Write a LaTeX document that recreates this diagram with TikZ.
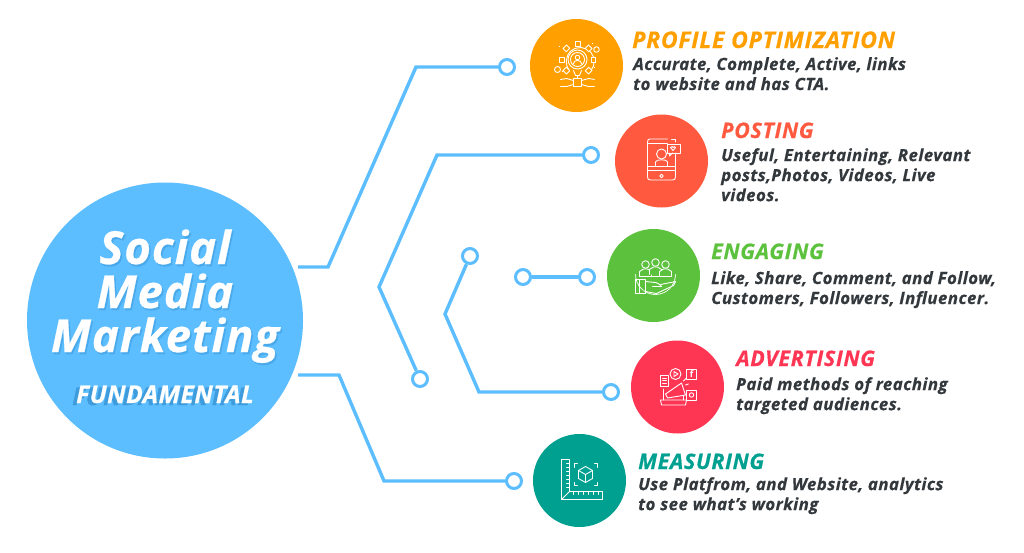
\documentclass[tikz,border=0pt]{standalone}
\usepackage{fontspec}
\setmainfont{Open Sans}
\newfontfamily\hd[LetterSpace=3,BoldItalicFeatures={FakeBold=0.5}]{Open Sans}
\newfontfamily\bd[LetterSpace=2.5,BoldItalicFeatures={FakeBold=0.4}]{Open Sans}
\newfontfamily\mn[LetterSpace=2,BoldItalicFeatures={FakeBold=0.6}]{Open Sans}
\usetikzlibrary{calc}
\definecolor{sky}{HTML}{5CBDFF}
\definecolor{skyd}{HTML}{3E9CDC}
\definecolor{orng}{HTML}{FF9F00}
\definecolor{rdd}{HTML}{FF5A3F}
\definecolor{grn}{HTML}{5CC13C}
\definecolor{pnk}{HTML}{FF3554}
\definecolor{tea}{HTML}{00A090}
\definecolor{ink}{HTML}{33383D}
\tikzset{
  x=1pt,y=-1pt,
  wire/.style={draw=sky,line width=3.4pt,line join=miter},
  ring/.style={circle,draw=sky,line width=3pt,fill=white,minimum size=15pt,inner sep=0pt},
  disc/.style={circle,minimum size=93pt,inner sep=0pt},
  title/.style={anchor=base west,inner sep=0pt,font=\hd\bfseries\itshape\fontsize{21.4}{24}\selectfont},
  titlewide/.style={anchor=base west,inner sep=0pt,font=\hd\bfseries\itshape\fontsize{23}{24}\selectfont},
  body/.style={anchor=north west,inner sep=0pt,align=left,text=ink,font=\bd\bfseries\itshape\fontsize{16.9}{20}\selectfont},
  big/.style={anchor=base,inner sep=0pt,font=\mn\bfseries\itshape\fontsize{45.5}{46}\selectfont},
  sub/.style={anchor=base,inner sep=0pt,font=\mn\bfseries\itshape\fontsize{24.5}{25}\selectfont},
  ico/.style={draw=white,line width=0.9pt,line join=round,line cap=round,fill=none},
}
\begin{document}
\begin{tikzpicture}
\useasboundingbox (0,0) rectangle (1024,552);
% main circle
\node[circle,fill=sky,minimum size=276pt,inner sep=0pt] (hub) at (165,320.5) {};
% discs
\node[disc,fill=orng] (d1) at (576.5,65.5) {};
\node[disc,fill=rdd] (d2) at (661.5,161) {};
\node[disc,fill=grn] (d3) at (653.5,275.5) {};
\node[disc,fill=pnk] (d4) at (677.5,387) {};
\node[disc,fill=tea] (d5) at (579.5,480.5) {};
% rings
\node[ring] (r1) at (507,67) {};
\node[ring] (r2a) at (591,155) {};
\node[ring] (r2b) at (420,379) {};
\node[ring] (r3a) at (470,256) {};
\node[ring] (r3b) at (611,392) {};
\node[ring] (r4a) at (523,277) {};
\node[ring] (r4b) at (587,277) {};
\node[ring] (r5) at (514,481) {};
% connector ends and bends
\coordinate (s1) at (298,267);
\coordinate (b1a) at (328,267);
\coordinate (b1b) at (416,67);
\coordinate (b2a) at (437,155);
\coordinate (b2b) at (379,287);
\coordinate (b3a) at (445,314);
\coordinate (b3b) at (479,392);
\coordinate (s5) at (298,375);
\coordinate (b5a) at (339,375);
\coordinate (b5b) at (384,481);
\draw[wire] (s1) -- (b1a) -- (b1b) -- (r1);
\draw[wire] (r2a) -- (b2a) -- (b2b) -- (r2b);
\draw[wire] (r3a) -- (b3a) -- (b3b) -- (r3b);
\draw[wire] (r4a) -- (r4b);
\draw[wire] (s5) -- (b5a) -- (b5b) -- (r5);
% hub text
\foreach \nm/\tx/\yy in {a/Social/264,b/Media/308,c/Marketing/352}{
  \node[big,text=skyd,opacity=.55] at (166.5,\yy+2) {\tx};
  \node[big,text=white] (hub\nm) at (165,\yy) {\tx};
}
\node[sub,text=skyd] at (161,405) {FUNDAMENTAL};
\node[sub,text=white] (hubd) at (165,403) {FUNDAMENTAL};
% labels
\node[titlewide,text=orng] (t1) at (632,48) {PROFILE OPTIMIZATION};
\node[body] (x1) at (633,57) {Accurate, Complete, Active, links\\to website and has CTA.};
\node[title,text=rdd] (t2) at (721,138) {POSTING};
\node[body] (x2) at (721,148) {Useful, Entertaining, Relevant\\posts,Photos, Videos, Live\\videos.};
\node[title,text=grn] (t3) at (711,259) {ENGAGING};
\node[body] (x3) at (711,271) {Like, Share, Comment, and Follow,\\Customers, Followers, Influencer.};
\node[title,text=pnk] (t4) at (736,366) {ADVERTISING};
\node[body] (x4) at (736,377) {Paid methods of reaching\\targeted audiences.};
\node[title,text=tea] (t5) at (638,469) {MEASURING};
\node[body] (x5) at (638,477) {Use Platfrom, and Website, analytics\\to see what’s working};
% icon: profile
\begin{scope}[shift={(d1.center)}]
  \draw[ico] (1,-6) circle [radius=9.5];
  \draw[ico] (1,-6) circle [radius=7];
  \draw[ico] (1,-8) circle [radius=2.3];
  \draw[ico] (-3,-2) .. controls (-3,-6) and (5,-6) .. (5,-2);
  \draw[ico] (-7,5) arc [start angle=140,end angle=400,radius=14];
  \foreach \a in {0,45,90,135,225,270,315}{
    \begin{scope}[shift={(1,-6)},rotate=\a]
      \draw[ico,fill=orng] (-2.5,-13.5) rectangle (2.5,-18);
    \end{scope}
  }
  \draw[ico] (-3,5) -- (-1,10) -- (3,10) -- (5,5);
  \draw[ico] (1,10) -- (1,13);
  \draw[ico] (-3,13) rectangle (5,21);
  \draw[ico] (-3,15) -- (-10,13) -- (-16,14);
  \draw[ico] (-3,19) -- (-10,21) -- (-16,21);
  \draw[ico] (5,15) -- (12,13) -- (18,14);
  \draw[ico] (5,19) -- (12,21) -- (18,21);
  \draw[ico] (-19,4) circle [radius=3];
  \draw[ico] (20,-16) circle [radius=2.8];
  \fill[white] (-17,-19) circle [radius=.6] (18,2) circle [radius=.6] (-14,6) circle [radius=.6] (16,-22) circle [radius=.6];
\end{scope}
% icon: posting
\begin{scope}[shift={(d2.center)}]
  \draw[ico] (6,-22) -- (-12,-22) .. controls (-13,-22) and (-14,-21) .. (-14,-19) -- (-14,16) .. controls (-14,18) and (-13,19) .. (-11,19) -- (11,19) .. controls (13,19) and (14,18) .. (14,16) -- (14,-8);
  \draw[ico] (14,-19) -- (14,-22) -- (10,-22);
  \draw[ico] (-14,-18) -- (6,-18);
  \draw[ico] (-14,5) -- (14,5) (-14,9) -- (14,9);
  \draw[ico] (0,-7) circle [radius=5];
  \draw[ico] (-6,5) -- (-6,1) .. controls (-6,-2) and (6,-2) .. (6,1) -- (6,5);
  \draw[ico] (6,-17) rectangle (19,-8);
  \draw[ico] (8,-8) -- (8,-5) -- (11,-8);
  \draw[ico] (9,-13.5) .. controls (10,-15) and (11.5,-14.5) .. (11.5,-13.5) .. controls (11.5,-14.5) and (14,-15) .. (14,-13.5) -- (11.5,-10.5) -- cycle;
  \draw[ico] (0,15) circle [radius=1.8];
\end{scope}
% icon: engaging
\begin{scope}[shift={(d3.center)}]
  \draw[ico,densely dotted] (-18,-1) arc [start angle=180,end angle=0,radius=20];
  \foreach \px/\py in {-8/-11,2/-13,12/-11}{
    \draw[ico,fill=grn] (\px-6,\py+12) -- (\px-6,\py+7) -- (\px-2,\py+4.5) -- (\px+2,\py+4.5) -- (\px+6,\py+7) -- (\px+6,\py+12);
    \draw[ico,fill=grn] (\px,\py) circle [radius=3.8];
  }
  \draw[ico] (-14,1) -- (18,1);
  \draw[ico] (-18,4) rectangle (-8,18);
  \draw[ico] (-14,4) -- (-14,18);
  \draw[ico] (-8,6) -- (2,7) .. controls (6,8) and (7,10) .. (8,11) -- (-1,11);
  \draw[ico] (7,9) -- (22,6) -- (20,10) -- (3,18) -- (-8,16);
\end{scope}
% icon: advertising
\begin{scope}[shift={(d4.center)}]
  \draw[ico] (-2,-13) circle [radius=5.5];
  \draw[ico] (-3.5,-15.5) -- (0.5,-13) -- (-3.5,-10.5) -- cycle;
  \draw[ico] (-17,-12) rectangle (-9,-1);
  \draw[ico] (-15,-9) -- (-11,-9) (-15,-6.5) -- (-11,-6.5) (-15,-4) -- (-11,-4);
  \draw[ico] (9,-18) rectangle (19,-8);
  \node[inner sep=0pt,text=white,font=\bfseries\fontsize{9}{9}\selectfont] (fb) at (14,-13) {f};
  \draw[ico] (9,3) rectangle (19,13);
  \draw[ico] (14,8) circle [radius=2.2];
  \draw[ico] (-14,2) -- (-14,13) (6,8) -- (6,13);
  \draw[ico] (-17,13) -- (9,13) -- (8,18) -- (-16,18) -- cycle;
  \draw[ico,fill=pnk] (-12,7) -- (4,-4) -- (8,8) -- (-10,11) -- cycle;
  \draw[ico] (6,-6) -- (9,-9) (8,-2) -- (11,-3);
\end{scope}
% icon: measuring
\begin{scope}[shift={(d5.center)}]
  \draw[ico] (-18,-21) -- (-10,-21) -- (-10,11) -- (23,11) -- (23,19) -- (-18,19) -- cycle;
  \draw[ico] (-18,19) -- (-10,11);
  \foreach \t in {-17,-13,-9,-5,-1,3,7}{\draw[ico,line width=.7pt] (-10,\t) -- (-13,\t);}
  \foreach \t in {-6,-1,4,9,14,19}{\draw[ico,line width=.7pt] (\t,11) -- (\t,14);}
  \draw[ico] (6,-14) -- (13,-10) -- (13,-2) -- (6,2) -- (-1,-2) -- (-1,-10) -- cycle;
  \draw[ico] (-1,-10) -- (6,-6) -- (13,-10) (6,-6) -- (6,2);
  \draw[ico] (-5,-13) -- (-5,-17) -- (-2,-17) (15,-17) -- (18,-17) -- (18,-13) (18,2) -- (18,5) -- (15,5) (-2,5) -- (-5,5) -- (-5,2);
\end{scope}
\end{tikzpicture}
\end{document}
